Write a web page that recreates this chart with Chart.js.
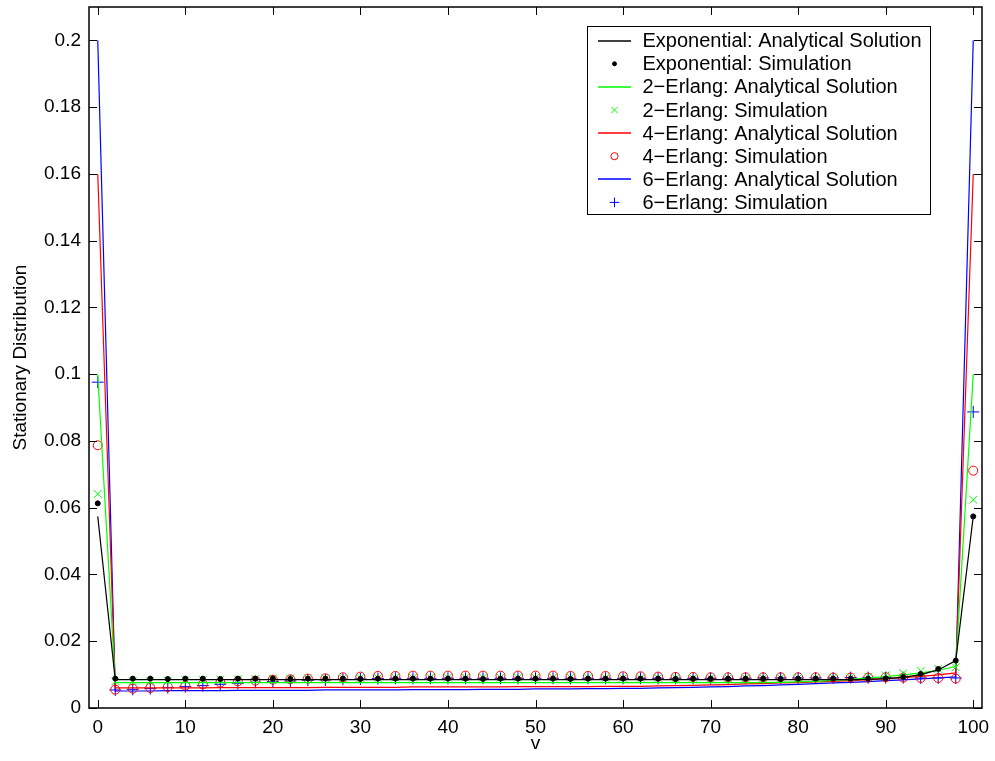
<!DOCTYPE html>
<html>
<head>
<meta charset="utf-8">
<script src="https://cdn.jsdelivr.net/npm/chart.js@4.4.1/dist/chart.umd.min.js"></script>
<style>
  html, body { margin: 0; padding: 0; background: #ffffff; }
  #wrap { width: 995px; height: 761px; }
</style>
</head>
<body>
<div id="wrap"><canvas id="c" width="995" height="761"></canvas></div>
<script>
// Buffer level v (every second state)
const v = [0,2,4,6,8,10,12,14,16,18,20,22,24,26,28,30,32,34,36,38,40,42,44,46,48,50,
           52,54,56,58,60,62,64,66,68,70,72,74,76,78,80,82,84,86,88,90,92,94,96,98,100];

const expAnalytical = [
  0.0574, 0.0085, 0.0085, 0.0085, 0.0085, 0.0085, 0.0085, 0.0085, 0.0085, 0.0085,
  0.0085, 0.0085, 0.0085, 0.0085, 0.0085, 0.0085, 0.0085, 0.0085, 0.0085, 0.0085,
  0.0085, 0.0085, 0.0085, 0.0085, 0.0085, 0.0085, 0.0085, 0.0085, 0.0085, 0.0085,
  0.0085, 0.0085, 0.0085, 0.0085, 0.0085, 0.0085, 0.0085, 0.0085, 0.0085, 0.0085,
  0.0085, 0.0085, 0.0085, 0.0085, 0.0086, 0.0088, 0.0092, 0.0100, 0.0114, 0.0142,
  0.0574];
const expSimulation = [
  0.0613, 0.0088, 0.0088, 0.0088, 0.0087, 0.0088, 0.0088, 0.0087, 0.0088, 0.0088,
  0.0088, 0.0087, 0.0088, 0.0088, 0.0088, 0.0087, 0.0088, 0.0088, 0.0088, 0.0088,
  0.0088, 0.0088, 0.0087, 0.0088, 0.0088, 0.0088, 0.0088, 0.0087, 0.0088, 0.0088,
  0.0088, 0.0088, 0.0088, 0.0087, 0.0088, 0.0088, 0.0088, 0.0088, 0.0088, 0.0087,
  0.0088, 0.0088, 0.0088, 0.0088, 0.0088, 0.0089, 0.0093, 0.0102, 0.0117, 0.0142,
  0.0574];
const erlang2Analytical = [
  0.1000, 0.0076, 0.0076, 0.0076, 0.0076, 0.0076, 0.0076, 0.0076, 0.0076, 0.0076,
  0.0076, 0.0076, 0.0076, 0.0076, 0.0076, 0.0076, 0.0076, 0.0076, 0.0076, 0.0076,
  0.0076, 0.0076, 0.0076, 0.0076, 0.0076, 0.0076, 0.0076, 0.0076, 0.0076, 0.0076,
  0.0076, 0.0076, 0.0076, 0.0076, 0.0076, 0.0076, 0.0076, 0.0076, 0.0076, 0.0077,
  0.0078, 0.0080, 0.0083, 0.0086, 0.0090, 0.0094, 0.0099, 0.0105, 0.0113, 0.0124,
  0.1000];
const erlang2Simulation = [
  0.0641, 0.0079, 0.0080, 0.0081, 0.0082, 0.0083, 0.0084, 0.0085, 0.0086, 0.0087,
  0.0088, 0.0088, 0.0089, 0.0089, 0.0090, 0.0090, 0.0090, 0.0091, 0.0091, 0.0091,
  0.0091, 0.0091, 0.0091, 0.0091, 0.0091, 0.0091, 0.0091, 0.0091, 0.0091, 0.0090,
  0.0090, 0.0090, 0.0090, 0.0090, 0.0090, 0.0090, 0.0090, 0.0090, 0.0090, 0.0090,
  0.0090, 0.0090, 0.0091, 0.0092, 0.0094, 0.0098, 0.0104, 0.0111, 0.0117, 0.0122,
  0.0624];
const erlang4Analytical = [
  0.1600, 0.0060, 0.0060, 0.0060, 0.0060, 0.0060, 0.0060, 0.0061, 0.0061, 0.0061,
  0.0061, 0.0061, 0.0061, 0.0062, 0.0062, 0.0062, 0.0062, 0.0062, 0.0063, 0.0063,
  0.0063, 0.0063, 0.0063, 0.0063, 0.0064, 0.0064, 0.0064, 0.0064, 0.0064, 0.0065,
  0.0065, 0.0065, 0.0066, 0.0067, 0.0068, 0.0069, 0.0070, 0.0072, 0.0073, 0.0075,
  0.0076, 0.0078, 0.0080, 0.0082, 0.0085, 0.0088, 0.0091, 0.0095, 0.0099, 0.0105,
  0.1600];
const erlang4Simulation = [
  0.0787, 0.0055, 0.0058, 0.0060, 0.0063, 0.0067, 0.0071, 0.0076, 0.0080, 0.0082,
  0.0085, 0.0086, 0.0088, 0.0089, 0.0092, 0.0094, 0.0096, 0.0096, 0.0097, 0.0097,
  0.0097, 0.0097, 0.0097, 0.0097, 0.0097, 0.0097, 0.0097, 0.0096, 0.0096, 0.0096,
  0.0095, 0.0095, 0.0094, 0.0093, 0.0093, 0.0092, 0.0092, 0.0092, 0.0092, 0.0092,
  0.0092, 0.0092, 0.0091, 0.0091, 0.0091, 0.0092, 0.0091, 0.0090, 0.0090, 0.0088,
  0.0711];
const erlang6Analytical = [
  0.2000, 0.0051, 0.0051, 0.0051, 0.0052, 0.0052, 0.0052, 0.0052, 0.0053, 0.0053,
  0.0053, 0.0053, 0.0053, 0.0054, 0.0054, 0.0054, 0.0054, 0.0054, 0.0055, 0.0055,
  0.0055, 0.0055, 0.0056, 0.0056, 0.0056, 0.0057, 0.0057, 0.0057, 0.0058, 0.0058,
  0.0059, 0.0059, 0.0060, 0.0061, 0.0062, 0.0063, 0.0064, 0.0066, 0.0067, 0.0069,
  0.0071, 0.0073, 0.0075, 0.0077, 0.0079, 0.0082, 0.0084, 0.0087, 0.0090, 0.0093,
  0.2000];
const erlang6Simulation = [
  0.0976, 0.0054, 0.0056, 0.0058, 0.0061, 0.0064, 0.0067, 0.0071, 0.0074, 0.0077,
  0.0079, 0.0081, 0.0083, 0.0084, 0.0086, 0.0087, 0.0088, 0.0089, 0.0089, 0.0089,
  0.0089, 0.0089, 0.0089, 0.0089, 0.0089, 0.0089, 0.0089, 0.0089, 0.0089, 0.0089,
  0.0089, 0.0089, 0.0089, 0.0089, 0.0089, 0.0089, 0.0089, 0.0089, 0.0090, 0.0090,
  0.0090, 0.0090, 0.0090, 0.0091, 0.0091, 0.0091, 0.0091, 0.0090, 0.0090, 0.0090,
  0.0887];

const xTicks = [0, 10, 20, 30, 40, 50, 60, 70, 80, 90, 100];
const yTicks = [0, 0.02, 0.04, 0.06, 0.08, 0.1, 0.12, 0.14, 0.16, 0.18, 0.2];

const FONT = '"Liberation Sans", Arial, Helvetica, sans-serif';
const GREEN = '#00ff00', RED = '#ff0000', BLUE = '#0000ff', BLACK = '#000000';

const pts = arr => arr.map((y, i) => ({ x: v[i], y }));

function lineSet(label, arr, color) {
  return { label, data: pts(arr), showLine: true, borderColor: color, backgroundColor: color,
           borderWidth: 1.2, pointRadius: 0, pointHoverRadius: 0, tension: 0,
           _kind: 'line', _color: color };
}
function markSet(label, arr, color, style, radius, fill) {
  return { label, data: pts(arr), showLine: false, pointStyle: style, pointRadius: radius,
           pointHoverRadius: radius, pointBorderColor: color, pointBackgroundColor: fill,
           pointBorderWidth: 1, borderColor: color, backgroundColor: fill,
           _kind: 'mark', _style: style, _radius: radius, _color: color, _fill: fill };
}

const datasets = [
  lineSet('Exponential: Analytical Solution', expAnalytical, BLACK),
  markSet('Exponential: Simulation', expSimulation, BLACK, 'circle', 2.5, BLACK),
  lineSet('2\u2212Erlang: Analytical Solution', erlang2Analytical, GREEN),
  markSet('2\u2212Erlang: Simulation', erlang2Simulation, GREEN, 'crossRot', 5.5, 'rgba(0,0,0,0)'),
  lineSet('4\u2212Erlang: Analytical Solution', erlang4Analytical, RED),
  markSet('4\u2212Erlang: Simulation', erlang4Simulation, RED, 'circle', 4.5, 'rgba(0,0,0,0)'),
  lineSet('6\u2212Erlang: Analytical Solution', erlang6Analytical, BLUE),
  markSet('6\u2212Erlang: Simulation', erlang6Simulation, BLUE, 'cross', 6, 'rgba(0,0,0,0)')
];

// Axes box with inward tick marks on all four sides
const framePlugin = {
  id: 'frame',
  afterDraw(chart) {
    const { ctx, chartArea: a, scales } = chart;
    const L = 8;
    ctx.save();
    ctx.strokeStyle = '#000';
    ctx.lineWidth = 1;
    ctx.beginPath();
    xTicks.forEach(t => {
      const px = Math.round(scales.x.getPixelForValue(t)) + 0.5;
      ctx.moveTo(px, a.bottom); ctx.lineTo(px, a.bottom - L);
      ctx.moveTo(px, a.top); ctx.lineTo(px, a.top + L);
    });
    yTicks.forEach(t => {
      const py = Math.round(scales.y.getPixelForValue(t)) + 0.5;
      ctx.moveTo(a.left, py); ctx.lineTo(a.left + L, py);
      ctx.moveTo(a.right, py); ctx.lineTo(a.right - L, py);
    });
    ctx.stroke();
    ctx.lineWidth = 1.5;
    ctx.strokeRect(a.left, a.top, a.right - a.left, a.bottom - a.top);
    ctx.restore();
  }
};

function drawMarker(ctx, style, x, y, r, color, fill) {
  ctx.save();
  ctx.strokeStyle = color; ctx.fillStyle = fill; ctx.lineWidth = 1;
  ctx.beginPath();
  if (style === 'circle') {
    ctx.arc(x, y, r, 0, Math.PI * 2);
    ctx.fill(); ctx.stroke();
  } else if (style === 'cross') {
    ctx.moveTo(x - r, y); ctx.lineTo(x + r, y);
    ctx.moveTo(x, y - r); ctx.lineTo(x, y + r);
    ctx.stroke();
  } else if (style === 'crossRot') {
    const d = r * Math.SQRT1_2;
    ctx.moveTo(x - d, y - d); ctx.lineTo(x + d, y + d);
    ctx.moveTo(x - d, y + d); ctx.lineTo(x + d, y - d);
    ctx.stroke();
  }
  ctx.restore();
}

// Boxed legend in the upper right of the axes
const legendPlugin = {
  id: 'boxLegend',
  afterDraw(chart) {
    const { ctx } = chart;
    const box = { x: 587, y: 26, w: 343, h: 188 };
    const rowH = 23.1, firstY = 40.7, sx0 = 598, sx1 = 631, tx = 642.5;
    ctx.save();
    ctx.fillStyle = '#fff';
    ctx.fillRect(box.x, box.y, box.w, box.h);
    ctx.strokeStyle = '#000'; ctx.lineWidth = 1;
    ctx.strokeRect(box.x + 0.5, box.y + 0.5, box.w, box.h);
    ctx.font = '20px ' + FONT;
    ctx.textBaseline = 'middle'; ctx.textAlign = 'left';
    datasets.forEach((ds, i) => {
      const y = firstY + i * rowH;
      if (ds._kind === 'line') {
        ctx.save();
        ctx.strokeStyle = ds._color; ctx.lineWidth = 1.6;
        ctx.beginPath();
        ctx.moveTo(sx0, Math.round(y)); ctx.lineTo(sx1, Math.round(y));
        ctx.stroke();
        ctx.restore();
      } else {
        const r = ds._style === 'circle' && ds._radius < 3 ? 2 : ds._radius * 0.8;
        drawMarker(ctx, ds._style, (sx0 + sx1) / 2, y, r, ds._color, ds._fill);
      }
      ctx.fillStyle = '#000';
      ctx.fillText(ds.label, tx, y + 1);
    });
    ctx.restore();
  }
};

new Chart(document.getElementById('c'), {
  type: 'scatter',
  data: { datasets },
  options: {
    responsive: false,
    animation: false,
    devicePixelRatio: 1,
    layout: { padding: { top: 4, right: 13, left: 0, bottom: 0 } },
    plugins: { legend: { display: false }, tooltip: { enabled: false } },
    scales: {
      x: {
        type: 'linear', min: -1, max: 101,
        grid: { display: false, drawTicks: false },
        border: { display: false },
        afterBuildTicks: s => { s.ticks = xTicks.map(value => ({ value })); },
        afterFit: s => { s.height = 53; s.paddingLeft = 0; s.paddingRight = 0; },
        ticks: { color: '#000', font: { family: FONT, size: 19 }, padding: 8,
                 maxRotation: 0, autoSkip: false, callback: val => String(val) },
        title: { display: true, text: 'v', color: '#000', font: { family: FONT, size: 19 },
                 padding: { top: 0, bottom: 6 } }
      },
      y: {
        type: 'linear', min: 0, max: 0.21,
        grid: { display: false, drawTicks: false },
        border: { display: false },
        afterBuildTicks: s => { s.ticks = yTicks.map(value => ({ value })); },
        afterFit: s => { s.width = 89; s.paddingTop = 0; s.paddingBottom = 0; },
        ticks: { color: '#000', font: { family: FONT, size: 19 }, padding: 8,
                 autoSkip: false, callback: val => String(Math.round(val * 100) / 100) },
        title: { display: true, text: 'Stationary Distribution', color: '#000',
                 font: { family: FONT, size: 19 }, padding: { top: 9, bottom: 0 } }
      }
    }
  },
  plugins: [framePlugin, legendPlugin]
});
</script>
</body>
</html>
